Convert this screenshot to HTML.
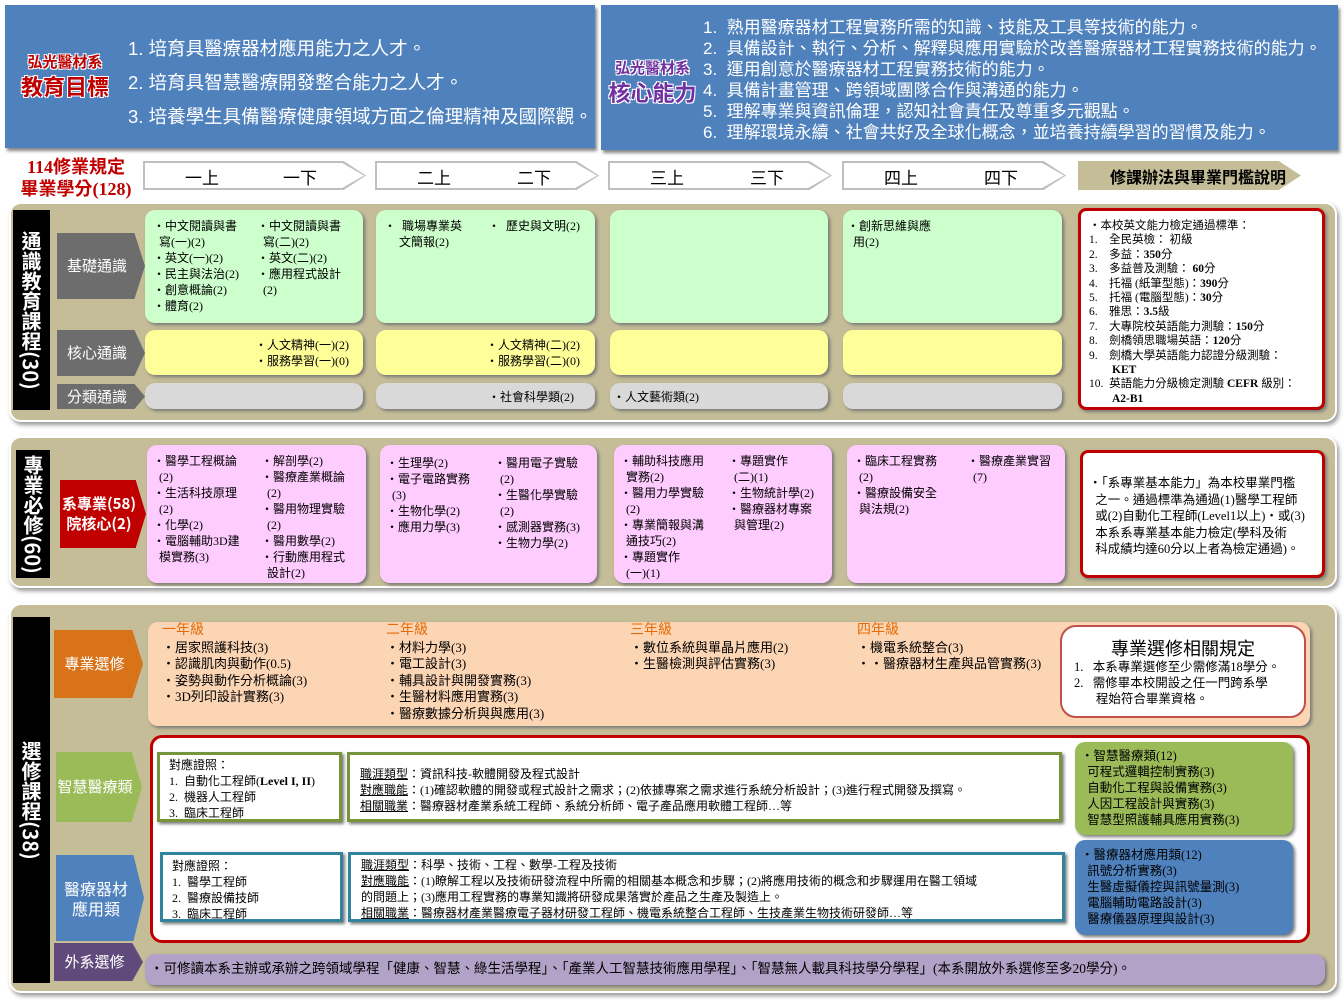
<!DOCTYPE html>
<html><head><meta charset="utf-8">
<style>
*{margin:0;padding:0;box-sizing:border-box}
body{width:1344px;height:1008px;background:#fff;position:relative;overflow:hidden;font-family:"Liberation Serif","Noto Sans CJK TC",serif;color:#000}
.a{position:absolute}
.blue{background:#4f81bd;box-shadow:2px 3px 3px #888}
.wt{color:#fff;font-size:17px;line-height:22px;font-family:"Liberation Sans","Noto Sans CJK TC",sans-serif}
.rt{color:#c00000;font-weight:bold;font-family:"Noto Sans CJK TC",sans-serif;text-shadow:-1px -1px 0 #fff,1px -1px 0 #fff,-1px 1px 0 #fff,1px 1px 0 #fff;text-align:center}
.chev{background:#bfbfbf;clip-path:polygon(0 0,90% 0,100% 50%,90% 100%,0 100%)}
.chev>div{position:absolute;left:2px;top:2px;right:2px;bottom:2px;background:#fff;clip-path:polygon(0 0,90% 0,100% 50%,90% 100%,0 100%)}
.chev span{position:absolute;top:3px;font-size:17px;font-family:"Noto Sans CJK TC",sans-serif}
.sec{background:#c4bd97;border-radius:12px;box-shadow:2px 3px 4px #999;border:2px solid #fff}
.bar{background:#000;color:#fff;font-weight:bold;font-size:20px;font-family:"Noto Sans CJK TC",sans-serif;writing-mode:vertical-rl;text-align:center;line-height:37px}
.arr{clip-path:polygon(0 0,88% 0,100% 50%,88% 100%,0 100%);color:#fff;font-size:15px;font-family:"Noto Sans CJK TC",sans-serif;display:flex;align-items:center;justify-content:center;text-align:center;line-height:20px;padding-right:8px}
.box{border-radius:10px;box-shadow:2px 2px 3px #777}
.t{font-size:12px;line-height:16px;position:absolute}
.red{background:#fff;border:3px solid #c00000;border-radius:8px;box-shadow:2px 2px 3px #777}
.cell{background:#fff;box-shadow:2px 2px 3px #777}
u{text-decoration:underline}
</style></head><body>

<div class="a blue" style="left:5px;top:5px;width:590px;height:143px"></div>
<div class="a rt" style="left:15px;top:52px;width:100px;font-size:15px;line-height:20px">弘光醫材系<br><span style="font-size:22px;line-height:28px">教育目標</span></div>
<div class="a wt" style="left:128px;top:32px;line-height:34px;font-size:18.5px">1. 培育具醫療器材應用能力之人才。<br>2. 培育具智慧醫療開發整合能力之人才。<br>3. 培養學生具備醫療健康領域方面之倫理精神及國際觀。</div>

<div class="a blue" style="left:601px;top:5px;width:737px;height:145px"></div>
<div class="a rt" style="left:605px;top:58px;width:95px;font-size:15px;line-height:20px;color:#7030a0">弘光醫材系<br><span style="font-size:22px;line-height:28px">核心能力</span></div>
<div class="a wt" style="left:703px;top:17px;line-height:21px;font-size:17px">1.&nbsp; 熟用醫療器材工程實務所需的知識、技能及工具等技術的能力。<br>2.&nbsp; 具備設計、執行、分析、解釋與應用實驗於改善醫療器材工程實務技術的能力。<br>3.&nbsp; 運用創意於醫療器材工程實務技術的能力。<br>4.&nbsp; 具備計畫管理、跨領域團隊合作與溝通的能力。<br>5.&nbsp; 理解專業與資訊倫理，認知社會責任及尊重多元觀點。<br>6.&nbsp; 理解環境永續、社會共好及全球化概念，並培養持續學習的習慣及能力。</div>

<div class="a" style="left:12px;top:156px;width:128px;text-align:center;color:#c00000;font-weight:bold;font-size:18px;line-height:22px">114修業規定<br>畢業學分(128)</div>
<div class="a chev" style="left:143px;top:161px;width:223px;height:29px"><div></div><span style="left:42px">一上</span><span style="left:140px">一下</span></div>
<div class="a chev" style="left:375px;top:161px;width:224px;height:29px"><div></div><span style="left:42px">二上</span><span style="left:142px">二下</span></div>
<div class="a chev" style="left:608px;top:161px;width:224px;height:29px"><div></div><span style="left:42px">三上</span><span style="left:142px">三下</span></div>
<div class="a chev" style="left:842px;top:161px;width:224px;height:29px"><div></div><span style="left:42px">四上</span><span style="left:142px">四下</span></div>
<div class="a chev" style="left:1078px;top:161px;width:223px;height:29px;background:#c4bd97"><div style="background:#c4bd97"></div><span style="left:32px;font-weight:bold;font-size:16px">修課辦法與畢業門檻說明</span></div>

<!-- Section 1 -->
<div class="a sec" style="left:9px;top:202px;width:1328px;height:220px"></div>
<div class="a bar" style="left:13px;top:210px;width:37px;height:200px">通識教育課程(30)</div>
<div class="a arr" style="left:57px;top:233px;width:88px;height:66px;background:#6d6d6d">基礎通識</div>
<div class="a arr" style="left:57px;top:330px;width:88px;height:46px;background:#6d6d6d">核心通識</div>
<div class="a arr" style="left:57px;top:384px;width:88px;height:25px;background:#6d6d6d">分類通識</div>

<div class="a box" style="left:145px;top:210px;width:218px;height:113px;background:#ccffcc">
<div class="t" style="left:8px;top:8px;width:100px">・中文閱讀與書<br>&nbsp;&nbsp;寫(一)(2)<br>・英文(一)(2)<br>・民主與法治(2)<br>・創意概論(2)<br>・體育(2)</div>
<div class="t" style="left:112px;top:8px;width:104px">・中文閱讀與書<br>&nbsp;&nbsp;寫(二)(2)<br>・英文(二)(2)<br>・應用程式設計<br>&nbsp;&nbsp;(2)</div></div>
<div class="a box" style="left:376px;top:210px;width:219px;height:113px;background:#ccffcc">
<div class="t" style="left:8px;top:8px">・&nbsp;&nbsp;職場專業英<br>&nbsp;&nbsp;&nbsp;&nbsp;&nbsp;文簡報(2)</div>
<div class="t" style="left:112px;top:8px">・&nbsp;&nbsp;歷史與文明(2)</div></div>
<div class="a box" style="left:610px;top:210px;width:218px;height:113px;background:#ccffcc"></div>
<div class="a box" style="left:843px;top:210px;width:219px;height:113px;background:#ccffcc">
<div class="t" style="left:4px;top:8px">・創新思維與應<br>&nbsp;&nbsp;用(2)</div></div>

<div class="a box" style="left:145px;top:330px;width:218px;height:45px;background:#ffff99"><div class="t" style="left:110px;top:7px">・人文精神(一)(2)<br>・服務學習(一)(0)</div></div>
<div class="a box" style="left:376px;top:330px;width:219px;height:45px;background:#ffff99"><div class="t" style="left:110px;top:7px">・人文精神(二)(2)<br>・服務學習(二)(0)</div></div>
<div class="a box" style="left:610px;top:330px;width:218px;height:45px;background:#ffff99"></div>
<div class="a box" style="left:843px;top:330px;width:219px;height:45px;background:#ffff99"></div>

<div class="a box" style="left:145px;top:383px;width:218px;height:26px;background:#d9d9d9"></div>
<div class="a box" style="left:376px;top:383px;width:219px;height:26px;background:#d9d9d9"><div class="t" style="left:112px;top:6px">・社會科學類(2)</div></div>
<div class="a box" style="left:610px;top:383px;width:218px;height:26px;background:#d9d9d9"><div class="t" style="left:3px;top:6px">・人文藝術類(2)</div></div>
<div class="a box" style="left:843px;top:383px;width:219px;height:26px;background:#d9d9d9"></div>

<div class="a red" style="left:1078px;top:208px;width:247px;height:202px"><div class="t" style="left:8px;top:8px;font-size:11.5px;line-height:14.4px">・本校英文能力檢定通過標準：<br>1.&nbsp;&nbsp;&nbsp; 全民英檢： 初級<br>2.&nbsp;&nbsp;&nbsp; 多益：<b>350</b>分<br>3.&nbsp;&nbsp;&nbsp; 多益普及測驗： <b>60</b>分<br>4.&nbsp;&nbsp;&nbsp; 托福 (紙筆型態)：<b>390</b>分<br>5.&nbsp;&nbsp;&nbsp; 托福 (電腦型態)：<b>30</b>分<br>6.&nbsp;&nbsp;&nbsp; 雅思：<b>3.5</b>級<br>7.&nbsp;&nbsp;&nbsp; 大專院校英語能力測驗：<b>150</b>分<br>8.&nbsp;&nbsp;&nbsp; 劍橋領思職場英語：<b>120</b>分<br>9.&nbsp;&nbsp;&nbsp; 劍橋大學英語能力認證分級測驗：<br>&nbsp;&nbsp;&nbsp;&nbsp;&nbsp;&nbsp;&nbsp; <b>KET</b><br>10.&nbsp; 英語能力分級檢定測驗 <b>CEFR</b> 級別：<br>&nbsp;&nbsp;&nbsp;&nbsp;&nbsp;&nbsp;&nbsp; <b>A2-B1</b></div></div>

<!-- Section 2 -->
<div class="a sec" style="left:9px;top:436px;width:1328px;height:152px"></div>
<div class="a bar" style="left:16px;top:450px;width:34px;height:128px;line-height:34px">專業必修(60)</div>
<div class="a arr" style="left:60px;top:480px;width:86px;height:68px;background:#c00000;font-weight:bold">系專業(58)<br>院核心(2)</div>
<div class="a box" style="left:147px;top:445px;width:219px;height:138px;background:#ffccff">
<div class="t" style="left:6px;top:8px">・醫學工程概論<br>&nbsp;&nbsp;(2)<br>・生活科技原理<br>&nbsp;&nbsp;(2)<br>・化學(2)<br>・電腦輔助3D建<br>&nbsp;&nbsp;模實務(3)</div>
<div class="t" style="left:114px;top:8px">・解剖學(2)<br>・醫療產業概論<br>&nbsp;&nbsp;(2)<br>・醫用物理實驗<br>&nbsp;&nbsp;(2)<br>・醫用數學(2)<br>・行動應用程式<br>&nbsp;&nbsp;設計(2)</div></div>
<div class="a box" style="left:380px;top:445px;width:217px;height:138px;background:#ffccff">
<div class="t" style="left:6px;top:10px">・生理學(2)<br>・電子電路實務<br>&nbsp;&nbsp;(3)<br>・生物化學(2)<br>・應用力學(3)</div>
<div class="t" style="left:114px;top:10px">・醫用電子實驗<br>&nbsp;&nbsp;(2)<br>・生醫化學實驗<br>&nbsp;&nbsp;(2)<br>・感測器實務(3)<br>・生物力學(2)</div></div>
<div class="a box" style="left:614px;top:445px;width:218px;height:138px;background:#ffccff">
<div class="t" style="left:6px;top:8px">・輔助科技應用<br>&nbsp;&nbsp;實務(2)<br>・醫用力學實驗<br>&nbsp;&nbsp;(2)<br>・專業簡報與溝<br>&nbsp;&nbsp;通技巧(2)<br>・專題實作<br>&nbsp;&nbsp;(一)(1)</div>
<div class="t" style="left:114px;top:8px">・專題實作<br>&nbsp;&nbsp;(二)(1)<br>・生物統計學(2)<br>・醫療器材專案<br>&nbsp;&nbsp;與管理(2)</div></div>
<div class="a box" style="left:847px;top:445px;width:218px;height:138px;background:#ffccff">
<div class="t" style="left:6px;top:8px">・臨床工程實務<br>&nbsp;&nbsp;(2)<br>・醫療設備安全<br>&nbsp;&nbsp;與法規(2)</div>
<div class="t" style="left:120px;top:8px">・醫療產業實習<br>&nbsp;&nbsp;(7)</div></div>
<div class="a red" style="left:1080px;top:450px;width:245px;height:128px"><div class="t" style="left:6px;top:22px;width:236px;font-size:12.5px;line-height:16.5px">・「系專業基本能力」為本校畢業門檻<br>&nbsp;&nbsp;之一。通過標準為通過(1)醫學工程師<br>&nbsp;&nbsp;或(2)自動化工程師(Level1以上)‧或(3)<br>&nbsp;&nbsp;本系系專業基本能力檢定(學科及術<br>&nbsp;&nbsp;科成績均達60分以上者為檢定通過)。</div></div>

<!-- Section 3 -->
<div class="a sec" style="left:9px;top:603px;width:1328px;height:390px"></div>
<div class="a bar" style="left:13px;top:617px;width:37px;height:366px">選修課程(38)</div>
<div class="a arr" style="left:54px;top:630px;width:89px;height:68px;background:#d9731a">專業選修</div>
<div class="a box" style="left:148px;top:622px;width:1162px;height:104px;background:#fcd5b4"></div>
<div class="t a" style="left:162px;top:622px;font-size:13px;line-height:16.5px"><span style="color:#e46c0a;font-size:14px">一年級</span><br>・居家照護科技(3)<br>・認識肌肉與動作(0.5)<br>・姿勢與動作分析概論(3)<br>・3D列印設計實務(3)</div>
<div class="t a" style="left:386px;top:622px;font-size:13px;line-height:16.5px"><span style="color:#e46c0a;font-size:14px">二年級</span><br>・材料力學(3)<br>・電工設計(3)<br>・輔具設計與開發實務(3)<br>・生醫材料應用實務(3)<br>・醫療數據分析與與應用(3)</div>
<div class="t a" style="left:630px;top:622px;font-size:13px;line-height:16.5px"><span style="color:#e46c0a;font-size:14px">三年級</span><br>・數位系統與單晶片應用(2)<br>・生醫檢測與評估實務(3)</div>
<div class="t a" style="left:857px;top:622px;font-size:13px;line-height:16.5px"><span style="color:#e46c0a;font-size:14px">四年級</span><br>・機電系統整合(3)<br>・‧醫療器材生產與品管實務(3)</div>
<div class="a" style="left:1060px;top:625px;width:246px;height:93px;background:#fff;border:2px solid #c0504d;border-radius:16px"><div style="position:absolute;left:0;width:100%;top:8px;text-align:center;font-size:18px;font-family:'Noto Sans CJK TC',sans-serif">專業選修相關規定</div><div class="t" style="left:12px;top:32px;font-size:12.5px">1.&nbsp;&nbsp; 本系專業選修至少需修滿18學分。<br>2.&nbsp;&nbsp; 需修畢本校開設之任一門跨系學<br>&nbsp;&nbsp;&nbsp;&nbsp;&nbsp;&nbsp; 程始符合畢業資格。</div></div>

<div class="a" style="left:150px;top:735px;width:1160px;height:208px;border:3px solid #c00000;border-radius:12px;background:#fff"></div>
<div class="a arr" style="left:56px;top:752px;width:86px;height:70px;background:#9bbb59">智慧醫療類</div>
<div class="a arr" style="left:56px;top:855px;width:88px;height:86px;background:#4f81bd;font-size:16px">醫療器材<br>應用類</div>
<div class="a cell" style="left:157px;top:752px;width:185px;height:70px;border:3px solid #77933c"><div class="t" style="left:9px;top:2px">對應證照：<br>1.&nbsp; 自動化工程師(<b>Level I, II</b>)<br>2.&nbsp; 機器人工程師<br>3.&nbsp; 臨床工程師</div></div>
<div class="a cell" style="left:347px;top:752px;width:715px;height:70px;border:3px solid #77933c"><div class="t" style="left:10px;top:11px"><u>職涯類型</u>：資訊科技-軟體開發及程式設計<br><u>對應職能</u>：(1)確認軟體的開發或程式設計之需求；(2)依據專案之需求進行系統分析設計；(3)進行程式開發及撰寫。<br><u>相關職業</u>：醫療器材產業系統工程師、系統分析師、電子產品應用軟體工程師…等</div></div>
<div class="a cell" style="left:160px;top:852px;width:183px;height:70px;border:3px solid #31849b"><div class="t" style="left:9px;top:3px">對應證照：<br>1.&nbsp; 醫學工程師<br>2.&nbsp; 醫療設備技師<br>3.&nbsp; 臨床工程師</div></div>
<div class="a cell" style="left:348px;top:852px;width:717px;height:70px;border:3px solid #31849b"><div class="t" style="left:10px;top:2px"><u>職涯類型</u>：科學、技術、工程、數學-工程及技術<br><u>對應職能</u>：(1)瞭解工程以及技術研發流程中所需的相關基本概念和步驟；(2)將應用技術的概念和步驟運用在醫工領域<br>的問題上；(3)應用工程實務的專業知識將研發成果落實於產品之生產及製造上。<br><u>相關職業</u>：醫療器材產業醫療電子器材研發工程師、機電系統整合工程師、生技產業生物技術研發師…等</div></div>
<div class="a box" style="left:1075px;top:742px;width:218px;height:93px;background:#9bbb59"><div class="t" style="left:6px;top:6px;font-size:12.5px">・智慧醫療類(12)<br>&nbsp;&nbsp;可程式邏輯控制實務(3)<br>&nbsp;&nbsp;自動化工程與設備實務(3)<br>&nbsp;&nbsp;人因工程設計與實務(3)<br>&nbsp;&nbsp;智慧型照護輔具應用實務(3)</div></div>
<div class="a box" style="left:1075px;top:840px;width:218px;height:95px;background:#4f81bd"><div class="t" style="left:6px;top:7px;font-size:12.5px">・醫療器材應用類(12)<br>&nbsp;&nbsp;訊號分析實務(3)<br>&nbsp;&nbsp;生醫虛擬儀控與訊號量測(3)<br>&nbsp;&nbsp;電腦輔助電路設計(3)<br>&nbsp;&nbsp;醫療儀器原理與設計(3)</div></div>

<div class="a arr" style="left:54px;top:943px;width:89px;height:38px;background:#604a7b">外系選修</div>
<div class="a box" style="left:145px;top:954px;width:1180px;height:31px;background:#b3a2c7"><div class="t" style="left:5px;top:7px;font-size:13.5px">・可修讀本系主辦或承辦之跨領域學程「健康、智慧、綠生活學程」、「產業人工智慧技術應用學程」、「智慧無人載具科技學分學程」(本系開放外系選修至多20學分)。</div></div>
</body></html>
